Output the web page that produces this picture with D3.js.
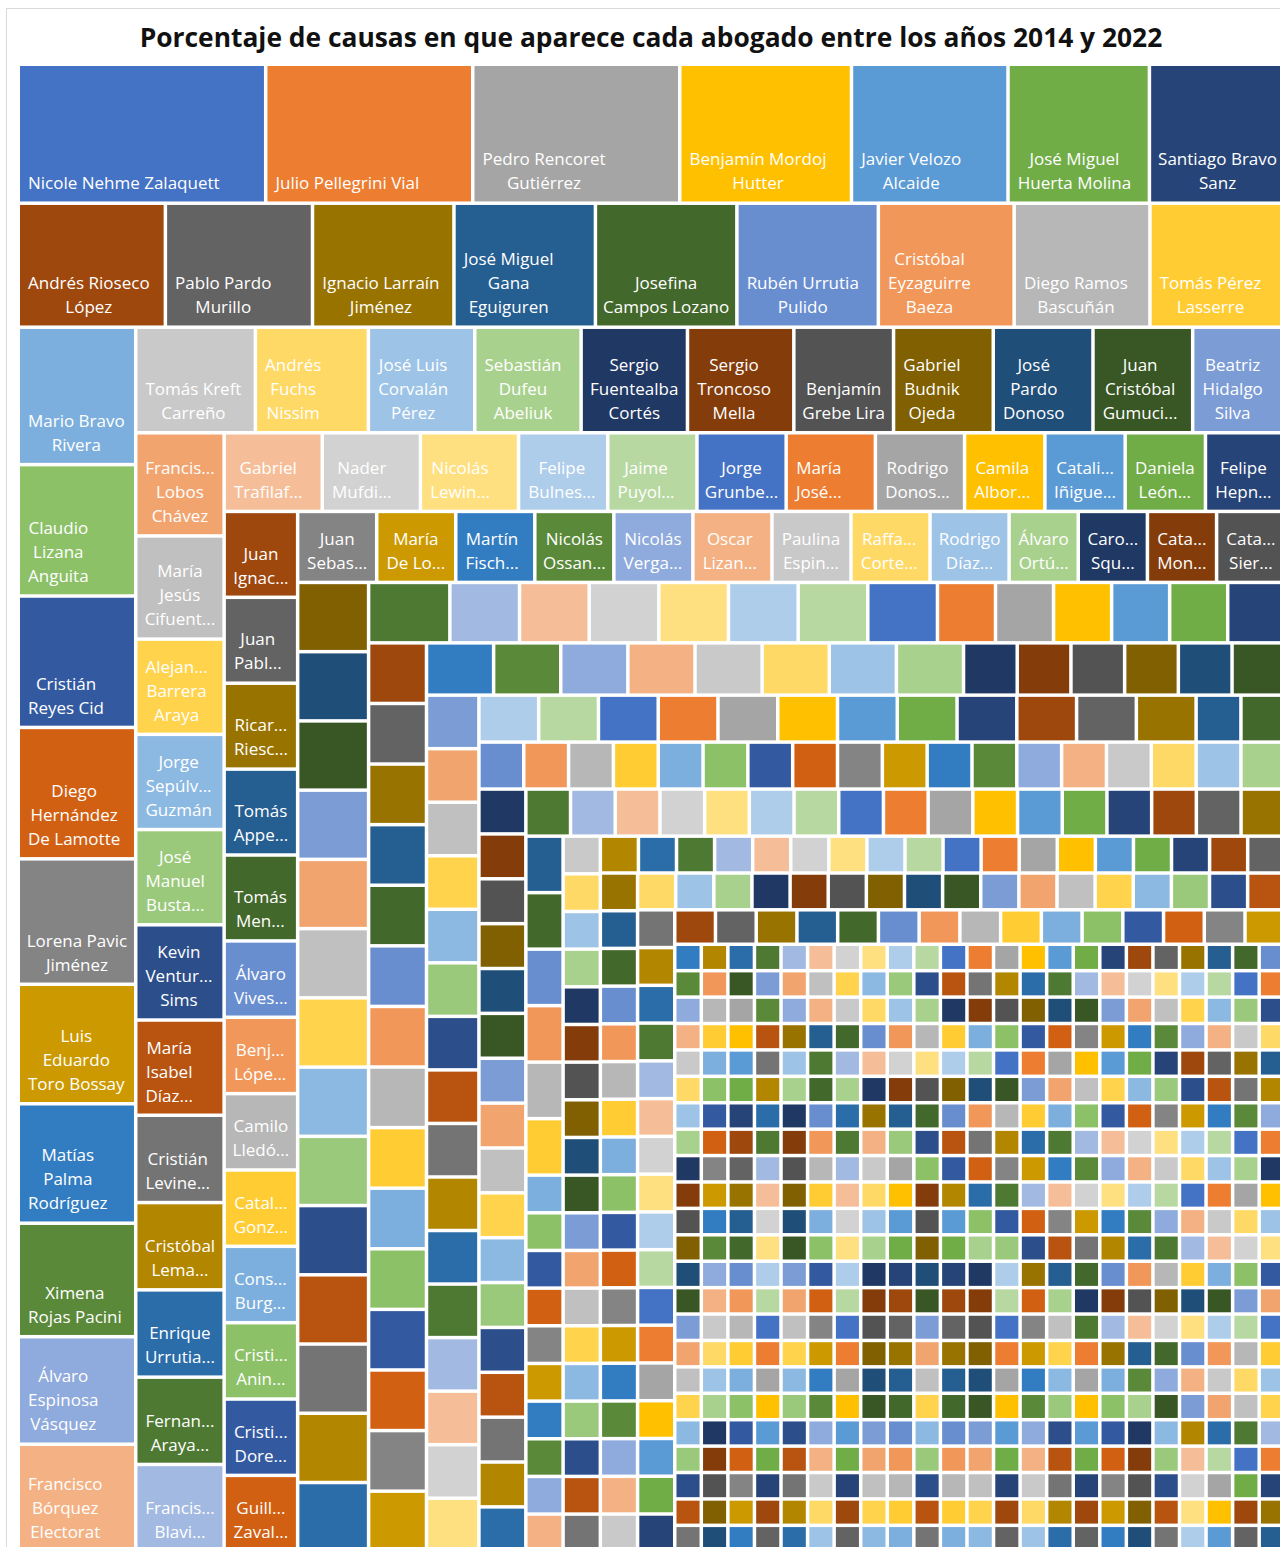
<!DOCTYPE html>
<html>
<head>
<meta charset="utf-8">
<title>Porcentaje de causas por abogado</title>
<script src="https://cdn.jsdelivr.net/npm/d3@7"></script>
<style>
  html, body { margin: 0; padding: 0; background: #fff; }
  svg { display: block; font-family: "Open Sans", "Noto Sans", sans-serif; }
  .label { fill: #fff; font-size: 17px; }
  .title { font-weight: 700; fill: #111; }
</style>
</head>
<body>
<script>
var width = 1280, height = 1547;

// lawyers with a visible label, largest first (text as shown in the tiles, \n = break seen in the original)
var names = [
  "Nicole Nehme Zalaquett", "Julio Pellegrini Vial", "Pedro Rencoret Gutiérrez",
  "Benjamín Mordoj Hutter", "Javier Velozo Alcaide", "José Miguel Huerta Molina",
  "Santiago Bravo Sanz",
  "Andrés Rioseco López", "Pablo Pardo Murillo", "Ignacio Larraín Jiménez",
  "José Miguel Gana\nEguiguren", "Josefina Campos Lozano", "Rubén Urrutia Pulido",
  "Cristóbal Eyzaguirre Baeza", "Diego Ramos Bascuñán", "Tomás Pérez Lasserre",
  "Mario Bravo Rivera", "Claudio Lizana Anguita", "Cristián Reyes Cid",
  "Diego Hernández De Lamotte", "Lorena Pavic Jiménez", "Luis\nEduardo Toro Bossay",
  "Matías Palma Rodríguez", "Ximena Rojas Pacini", "Álvaro Espinosa Vásquez",
  "Francisco Bórquez Electorat",
  "Tomás Kreft Carreño", "Andrés Fuchs Nissim", "José Luis Corvalán Pérez",
  "Sebastián Dufeu Abeliuk", "Sergio Fuentealba Cortés", "Sergio Troncoso Mella",
  "Benjamín Grebe Lira", "Gabriel Budnik Ojeda", "José\nPardo Donoso",
  "Juan Cristóbal Gumuci...", "Beatriz Hidalgo Silva",
  "Francis... Lobos Chávez", "María Jesús Cifuent...", "Alejan... Barrera Araya",
  "Jorge Sepúlv... Guzmán", "José Manuel Busta...", "Kevin Ventur... Sims",
  "María Isabel Díaz...", "Cristián Levine...", "Cristóbal Lema...",
  "Enrique Urrutia...", "Fernan... Araya...", "Francis... Blavi...",
  "Gabriel Trafilaf...", "Nader Mufdi...", "Nicolás Lewin...", "Felipe Bulnes...",
  "Jaime Puyol...", "Jorge Grunbe...", "María José...", "Rodrigo Donos...",
  "Camila Albor...", "Catali... Iñigue...", "Daniela León...", "Felipe Hepn...",
  "Juan Ignac...", "Juan Pabl...", "Ricar... Riesc...", "Tomás Appe...",
  "Tomás Men...", "Álvaro Vives...", "Benj... Lópe...", "Camilo Lledó...",
  "Catal... Gonz...", "Cons... Burg...", "Cristi... Anin...", "Cristi... Dore...",
  "Guill... Zaval...",
  "Juan Sebas...", "María De Lo...", "Martín Fisch...", "Nicolás Ossan...",
  "Nicolás Verga...", "Oscar Lizan...", "Paulina Espin...", "Raffa... Corte...",
  "Rodrigo Díaz...", "Álvaro Ortú...", "Caro... Squ...", "Cata... Mon...",
  "Cata... Sier..."
];

// number of causes for each labelled lawyer
var values = [
  49, 41, 41, 34, 31, 28, 27,
  26, 26, 25, 25, 25, 25, 24, 24, 24,
  23, 22, 22, 22, 21, 20, 20, 19, 18, 18,
  18, 17, 16, 16, 16, 16, 15, 15, 15, 15, 14,
  13, 13, 12, 12, 12, 12, 12, 11, 11, 11, 11, 11,
  11, 11, 11, 10, 10, 10, 10, 10, 9, 9, 9, 9,
  9, 9, 9, 9, 9, 8, 8, 8, 8, 8, 8, 8, 8,
  8, 8, 8, 8, 8, 8, 8, 8, 8, 7, 7, 7, 7
];

// tiles too small to carry a label
var unlabeledValues = [
  7,7,7,7,7,7,7,7,7,7, 7,7,7,7,7,
  6,6,6,6,6,6,6,
  5,5,5,5,5,5,5,5,5,5, 5,5,5,5,5,5,5,5,5,5,
  5,5,5,5,5,5,5,5,5,
  4,4,4,4,4,4,4,4,4,4, 4,4,4,4,4,4,4,4,4,4,
  4,4,4,4,4,4,4,4,4,4, 4,4,4,4,
  3,3,3,3,3,3,3,3,3,3, 3,3,3,3,3,3,3,3,3,3,
  3,3,3,3,3,3,3,3,3,3, 3,3,3,3,3,3,3,3,3,3,
  3,3,3,3,3,3,3,3,3,3, 3,3,3,3,3,3,3,3,3,3,
  2,2,2,2,2,2,2,2,2,2, 2,2,2,2,2,2,2,2,2,2,
  2,2,2,2,2,2,2,2,2,2, 2,2,2,2,2,2,2,2,2,2,
  2,2,2,2,2,2,2,2,2,2, 2,2,2,2,2,2,2,2,2,2,
  2,2,2,2,2,2,2,2,2,2, 2,2,2,2,2,2,2,2,2,2,
  2,2,2,2,2,2,2,2,2,2, 2,2,2,2,2,2,2,2,2,2,
  2,2,2,2,2,2,2,2,2,2, 2,2,2,2,
  1,1,1,1,1,1,1,1,1,1, 1,1,1,1,1,1,1,1,1,1,
  1,1,1,1,1,1,1,1,1,1, 1,1,1,1,1,1,1,1,1,1,
  1,1,1,1,1,1,1,1,1,1, 1,1,1,1,1,1,1,1,1,1,
  1,1,1,1,1,1,1,1,1,1, 1,1,1,1,1,1,1,1,1,1,
  1,1,1,1,1,1,1,1,1,1, 1,1,1,1,1,1,1,1,1,1,
  1,1,1,1,1,1,1,1,1,1, 1,1,1,1,1,1,1,1,1,1,
  1,1,1,1,1,1,1,1,1,1, 1,1,1,1,1,1,1,1,1,1,
  1,1,1,1,1,1,1,1,1,1, 1,1,1,1,1,1,1,1,1,1,
  1,1,1,1,1,1,1,1,1,1, 1,1,1,1,1,1,1,1,1,1,
  1,1,1,1,1,1,1,1,1,1, 1,1,1,1,1,1,1,1,1,1,
  1,1,1,1,1,1,1,1,1,1, 1,1,1,1,1,1,1,1,1,1,
  1,1,1,1,1,1,1,1,1,1, 1,1,1,1,1,1,1,1,1,1,
  1,1,1,1,1,1,1,1,1,1, 1,1,1,1,1,1,1,1,1,1,
  1,1,1,1,1,1,1,1,1,1, 1,1,1,1,1,1,1,1,1,1,
  1,1,1,1,1,1,1,1,1,1, 1,1,1,1,1,1,1,1,1,1,
  1,1,1,1,1,1,1,1,1,1, 1,1,1,1,1,1,1,1,1,1,
  1,1,1,1,1,1,1,1,1,1, 1,1,1,1,1,1,1,1,1,1,
  1,1,1,1,1,1,1,1,1,1, 1,1,1,1,1,1,1,1,1,1,
  1,1,1,1,1,1,1,1,1,1, 1,1,1,1,1,1,1,1,1,1,
  1,1,1,1,1,1,1,1,1,1, 1,1,1,1,1,1,1,1,1,1,
  1,1,1,1,1,1,1,1,1,1, 1,1,1,1,1,1,1,1,1,1,
  1,1,1,1,1,1,1,1,1,1, 1,1,1,1,1,1,1,1,1,1,
  1,1,1,1,1,1,1,1,1,1, 1,1,1,1,1,1,1,1,1,1,
  1,1,1,1,1,1,1,1,1,1, 1,1,1,1,1,1,1,1,1,1,
  1,1,1,1,1,1,1,1,1,1, 1,1,1,1,1,1,1,1,1,1,
  1,1,1,1,1,1,1,1,1,1, 1,1,1,1,1,1,1,1,1,1,
  1,1,1,1,1,1,1,1,1
];

var titleText = "Porcentaje de causas en que aparece cada abogado entre los años 2014 y 2022";

// office theme colours, cycled with the same light/dark variants Excel uses
var accents = ["#4472C4", "#ED7D31", "#A5A5A5", "#FFC000", "#5B9BD5", "#70AD47"];
var variants = [[1, 0], [0.6, 0], [0.8, 0.2], [0.8, 0], [0.6, 0.4], [0.5, 0], [0.7, 0.3], [0.7, 0], [0.5, 0.5]];
var palette = [];
variants.forEach(function(v) {
  accents.forEach(function(c) {
    var h = d3.hsl(c);
    h.l = h.l * v[0] + v[1];
    palette.push(h.formatHex());
  });
});

var plot = {left: 20, top: 66, width: 1264, height: 1484};

var svg = d3.select("body").append("svg")
    .attr("width", width)
    .attr("height", height);

// chart frame
svg.append("rect")
    .attr("x", 6.5).attr("y", 8.5)
    .attr("width", 1290).attr("height", 1600)
    .attr("fill", "none")
    .attr("stroke", "#d9d9d9");

// squarified strips, a strip is closed as soon as the newest tile gets less square
function excelSquarify(parent, x0, y0, x1, y1) {
  var nodes = parent.children, n = nodes.length, i0 = 0, value = parent.value;
  while (i0 < n) {
    var dx = x1 - x0, dy = y1 - y0;
    var across = dx < dy ? dx : dy;
    var unit = dx * dy / value;
    var sum = 0, prev = Infinity, i1 = i0;
    while (i1 < n) {
      var v = nodes[i1].value, s = sum + v;
      var thick = s * unit / across, along = v * across / s;
      var r = Math.max(thick / along, along / thick);
      if (i1 > i0 && r > prev * 1.02) break;
      sum = s; prev = r; i1++;
    }
    var row = {value: sum, children: nodes.slice(i0, i1)};
    if (dx < dy) {
      var h = sum * unit / dx;
      d3.treemapDice(row, x0, y0, x1, y0 + h);
      y0 += h;
    } else {
      var w = sum * unit / dy;
      d3.treemapSlice(row, x0, y0, x0 + w, y1);
      x0 += w;
    }
    value -= sum;
    i0 = i1;
  }
}

var leavesData = names.map(function(n, i) { return {name: n, value: values[i]}; })
  .concat(unlabeledValues.map(function(v) { return {name: null, value: v}; }));

var root = d3.hierarchy({children: leavesData})
    .sum(function(d) { return d.value || 0; });

d3.treemap()
    .tile(excelSquarify)
    .size([plot.width, plot.height])
    .paddingInner(3.5)(root);

var g = svg.append("g")
    .attr("transform", "translate(" + plot.left + "," + plot.top + ")");

var leaves = root.leaves();

g.selectAll("rect.tile")
  .data(leaves)
  .enter().append("rect")
    .attr("class", "tile")
    .attr("x", function(d) { return d.x0; })
    .attr("y", function(d) { return d.y0; })
    .attr("width", function(d) { return d.x1 - d.x0; })
    .attr("height", function(d) { return d.y1 - d.y0; })
    .attr("fill", function(d, i) { return palette[i % palette.length]; });

// text measuring helper
var probe = svg.append("text").attr("class", "label").attr("x", -1000).attr("y", -1000);
function measure(s) { probe.text(s); return probe.node().getComputedTextLength(); }

function fitText(s, maxW) {
  if (measure(s) <= maxW) return s;
  var base = s.replace(/\.\.\.$/, "");
  while (base.length > 1 && measure(base + "...") > maxW) base = base.slice(0, -1);
  return base + "...";
}

var lineH = 24;

leaves.forEach(function(d) {
  if (!d.data.name) return;
  var w = d.x1 - d.x0, h = d.y1 - d.y0;
  var maxW = w - 9;
  var lines = [];
  d.data.name.split("\n").forEach(function(part) {
    var line = "";
    part.split(" ").forEach(function(word) {
      var test = line ? line + " " + word : word;
      if (!line || measure(test) <= maxW) line = test;
      else { lines.push(line); line = word; }
    });
    if (line) lines.push(line);
  });
  var maxLines = Math.max(1, 1 + Math.floor((h - 28) / lineH));
  if (lines.length > maxLines) {
    lines = lines.slice(0, maxLines);
    lines[maxLines - 1] = lines[maxLines - 1].replace(/\.\.\.$/, "") + "...";
  }
  lines = lines.map(function(l) { return fitText(l, maxW); });
  var blockW = d3.max(lines, measure);
  var pad = Math.max(4, Math.min(8, (w - blockW) / 2));
  var cx = d.x0 + pad + blockW / 2;
  var n = lines.length;
  var t = g.append("text")
      .attr("class", "label")
      .attr("text-anchor", "middle");
  lines.forEach(function(l, k) {
    t.append("tspan")
      .attr("x", cx)
      .attr("y", d.y1 - 12 - (n - 1 - k) * lineH)
      .text(l);
  });
});
probe.remove();

// title, sized to the width it takes in the original
var title = svg.append("text")
    .attr("class", "title")
    .attr("x", 651)
    .attr("y", 47)
    .attr("text-anchor", "middle")
    .style("font-size", "24px")
    .text(titleText);
var tw = title.node().getComputedTextLength();
title.style("font-size", (24 * 1023 / tw).toFixed(2) + "px");
</script>
</body>
</html>
